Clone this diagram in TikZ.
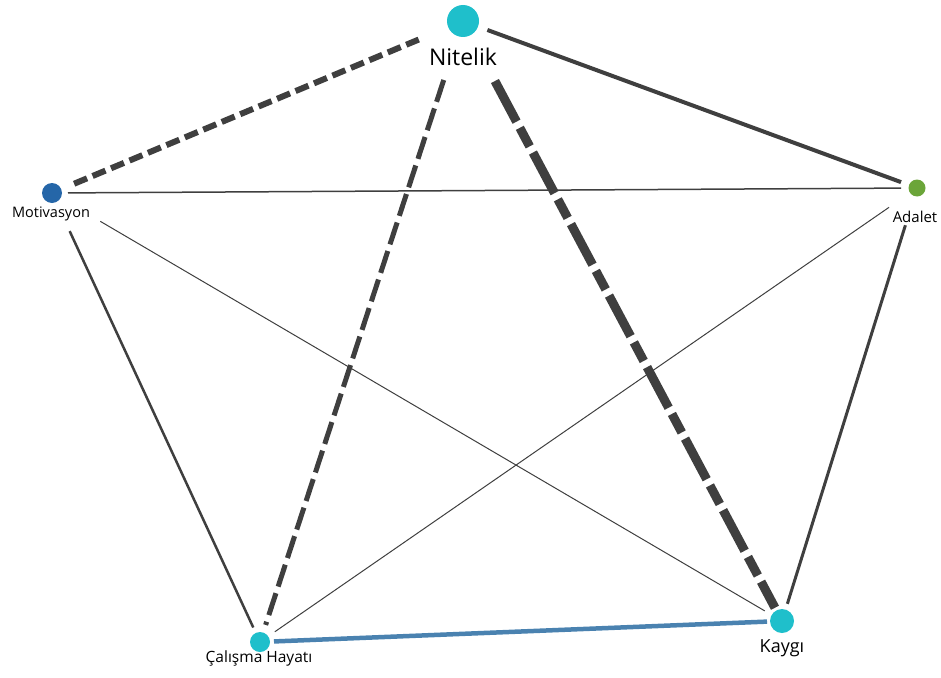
\documentclass[tikz,border=0pt]{standalone}
\usepackage{fontspec}
\setmainfont{Open Sans}
\definecolor{cyanN}{HTML}{1FBFCB}
\definecolor{blueN}{HTML}{2566A8}
\definecolor{greenN}{HTML}{6BA539}
\definecolor{edgeG}{HTML}{3F3F3F}
\definecolor{edgeB}{HTML}{4A82B0}
\begin{document}
\begin{tikzpicture}[x=1pt,y=-1pt,
  dot/.style={circle,inner sep=0pt,draw=none},
  lbl/.style={anchor=base,inner sep=0pt,text=black},
  edge/.style={draw=edgeG,line cap=butt}]
\useasboundingbox (0,0) rectangle (941,677);
% nodes
\node[dot,fill=cyanN,minimum size=32pt] (nit) at (463,21) {};
\node[dot,fill=blueN,minimum size=20pt] (mot) at (52,193) {};
\node[dot,fill=greenN,minimum size=17pt] (ada) at (917,188) {};
\node[dot,fill=cyanN,minimum size=20pt] (cal) at (260,642) {};
\node[dot,fill=cyanN,minimum size=24pt] (kay) at (782,621) {};
% labels
\node[lbl,font=\fontsize{23}{26}\selectfont] (nitL) at (463,65) {Nitelik};
\node[lbl,font=\fontsize{14.5}{16}\selectfont] (motL) at (51,217) {Motivasyon};
\node[lbl,font=\fontsize{15}{16}\selectfont] (adaL) at (915,222) {Adalet};
\node[lbl,font=\fontsize{15.5}{17}\selectfont] (calL) at (259,662) {Çalışma Hayatı};
\node[lbl,font=\fontsize{18}{20}\selectfont] (kayL) at (782,652) {Kaygı};
% edges
\draw[edge,line width=6pt,dash pattern=on 14pt off 6pt,shorten <=24pt,shorten >=48pt] (mot.center) -- (nit.center);
\draw[edge,line width=4pt,shorten <=26pt,shorten >=17pt] (nit.center) -- (ada.center);
\draw[edge,line width=5pt,dash pattern=on 23pt off 7pt,shorten <=62pt,shorten >=18pt] (nit.center) -- (cal.center);
\draw[edge,line width=9pt,dash pattern=on 46pt off 7pt on 21pt off 7pt,shorten <=68pt,shorten >=15pt] (nit.center) -- (kay.center);
\draw[edge,line width=1.5pt,shorten <=16pt,shorten >=16pt] (mot.center) -- (ada.center);
\draw[edge,line width=2.5pt,shorten <=42pt,shorten >=16pt] (mot.center) -- (cal.center);
\draw[edge,line width=1pt,shorten <=56pt,shorten >=20pt] (mot.center) -- (kay.center);
\draw[edge,line width=1pt,shorten <=34pt,shorten >=18pt] (ada.center) -- (cal.center);
\draw[edge,line width=3pt,shorten <=39pt,shorten >=18pt] (ada.center) -- (kay.center);
\draw[draw=edgeB,line width=4.5pt,shorten <=14pt,shorten >=15pt] (cal.center) -- (kay.center);
\end{tikzpicture}
\end{document}
